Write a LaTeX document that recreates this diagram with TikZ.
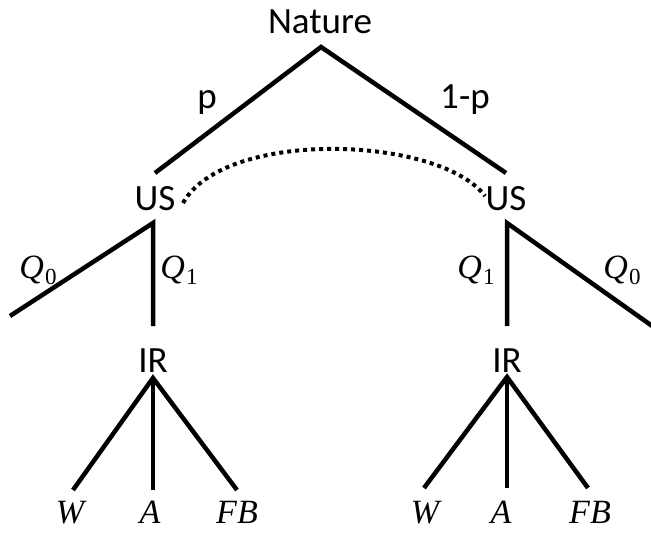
\documentclass[tikz,border=0pt]{standalone}
\usepackage{fontspec}
\setmainfont{Carlito}
\newfontfamily\mfont{Liberation Serif}
\newcommand{\mv}[1]{{\mfont\itshape #1}}
\newcommand{\msub}[2]{{\mfont\itshape #1}\kern1pt\raisebox{-6pt}{\mfont\fontsize{23}{26}\selectfont #2}}
\begin{document}
\begin{tikzpicture}[x=1pt,y=-1pt,
  edge/.style={line width=4.5pt},
  lbl/.style={anchor=base,inner sep=0pt,font=\fontsize{37}{42}\selectfont},
  mlbl/.style={anchor=base,inner sep=0pt,font=\fontsize{34}{38}\selectfont},
  info/.style={line width=4pt,dash pattern=on 4pt off 4pt}]
\useasboundingbox (0,0) rectangle (651,533);
% labels
\node[lbl] (nat) at (320,33) {Nature};
\node[lbl] (p) at (207,108) {p};
\node[lbl] (q) at (465,108) {1-p};
\node[lbl] (usl) at (155,210) {US};
\node[lbl] (usr) at (506,210) {US};
\node[mlbl] (q0l) at (38,278) {\msub{Q}{0}};
\node[mlbl] (q1l) at (179,278) {\msub{Q}{1}};
\node[mlbl] (q1r) at (476,278) {\msub{Q}{1}};
\node[mlbl] (q0r) at (622,278) {\msub{Q}{0}};
\node[lbl] (irl) at (153,372) {IR};
\node[lbl] (irr) at (507,372) {IR};
\node[mlbl] (wl) at (70,523) {\mv{W}};
\node[mlbl] (al) at (150,523) {\mv{A}};
\node[mlbl] (fbl) at (237,523) {\mv{FB}};
\node[mlbl] (wr) at (425,523) {\mv{W}};
\node[mlbl] (ar) at (501,523) {\mv{A}};
\node[mlbl] (fbr) at (590,523) {\mv{FB}};
% points
\coordinate (n0) at (321,47);
\coordinate (nl) at (155,173);
\coordinate (nr) at (506,173);
\coordinate (ul) at (153,223);
\coordinate (ur) at (507,223);
\coordinate (ql0) at (10,316);
\coordinate (ql1) at (153,326);
\coordinate (qr1) at (507,326);
\coordinate (qr0) at (655,328);
\coordinate (il) at (153,378);
\coordinate (ir) at (507,377);
\coordinate (lw) at (73,490);
\coordinate (la) at (153,490);
\coordinate (lf) at (237,490);
\coordinate (rw) at (424,488);
\coordinate (ra) at (507,488);
\coordinate (rf) at (588,488);
\coordinate (dl) at (183,203);
\coordinate (dr) at (485,196);
% edges
\draw[edge] (nl) -- (n0) -- (nr);
\draw[edge] (ql0) -- (ul) -- (ql1);
\draw[edge] (qr1) -- (ur) -- (qr0);
\draw[edge] (lw) -- (il) -- (lf);
\draw[edge] (il) -- (la);
\draw[edge] (rw) -- (ir) -- (rf);
\draw[edge] (ir) -- (ra);
\draw[info] (dl) .. controls (225,128) and (440,136) .. (dr);
\end{tikzpicture}
\end{document}
